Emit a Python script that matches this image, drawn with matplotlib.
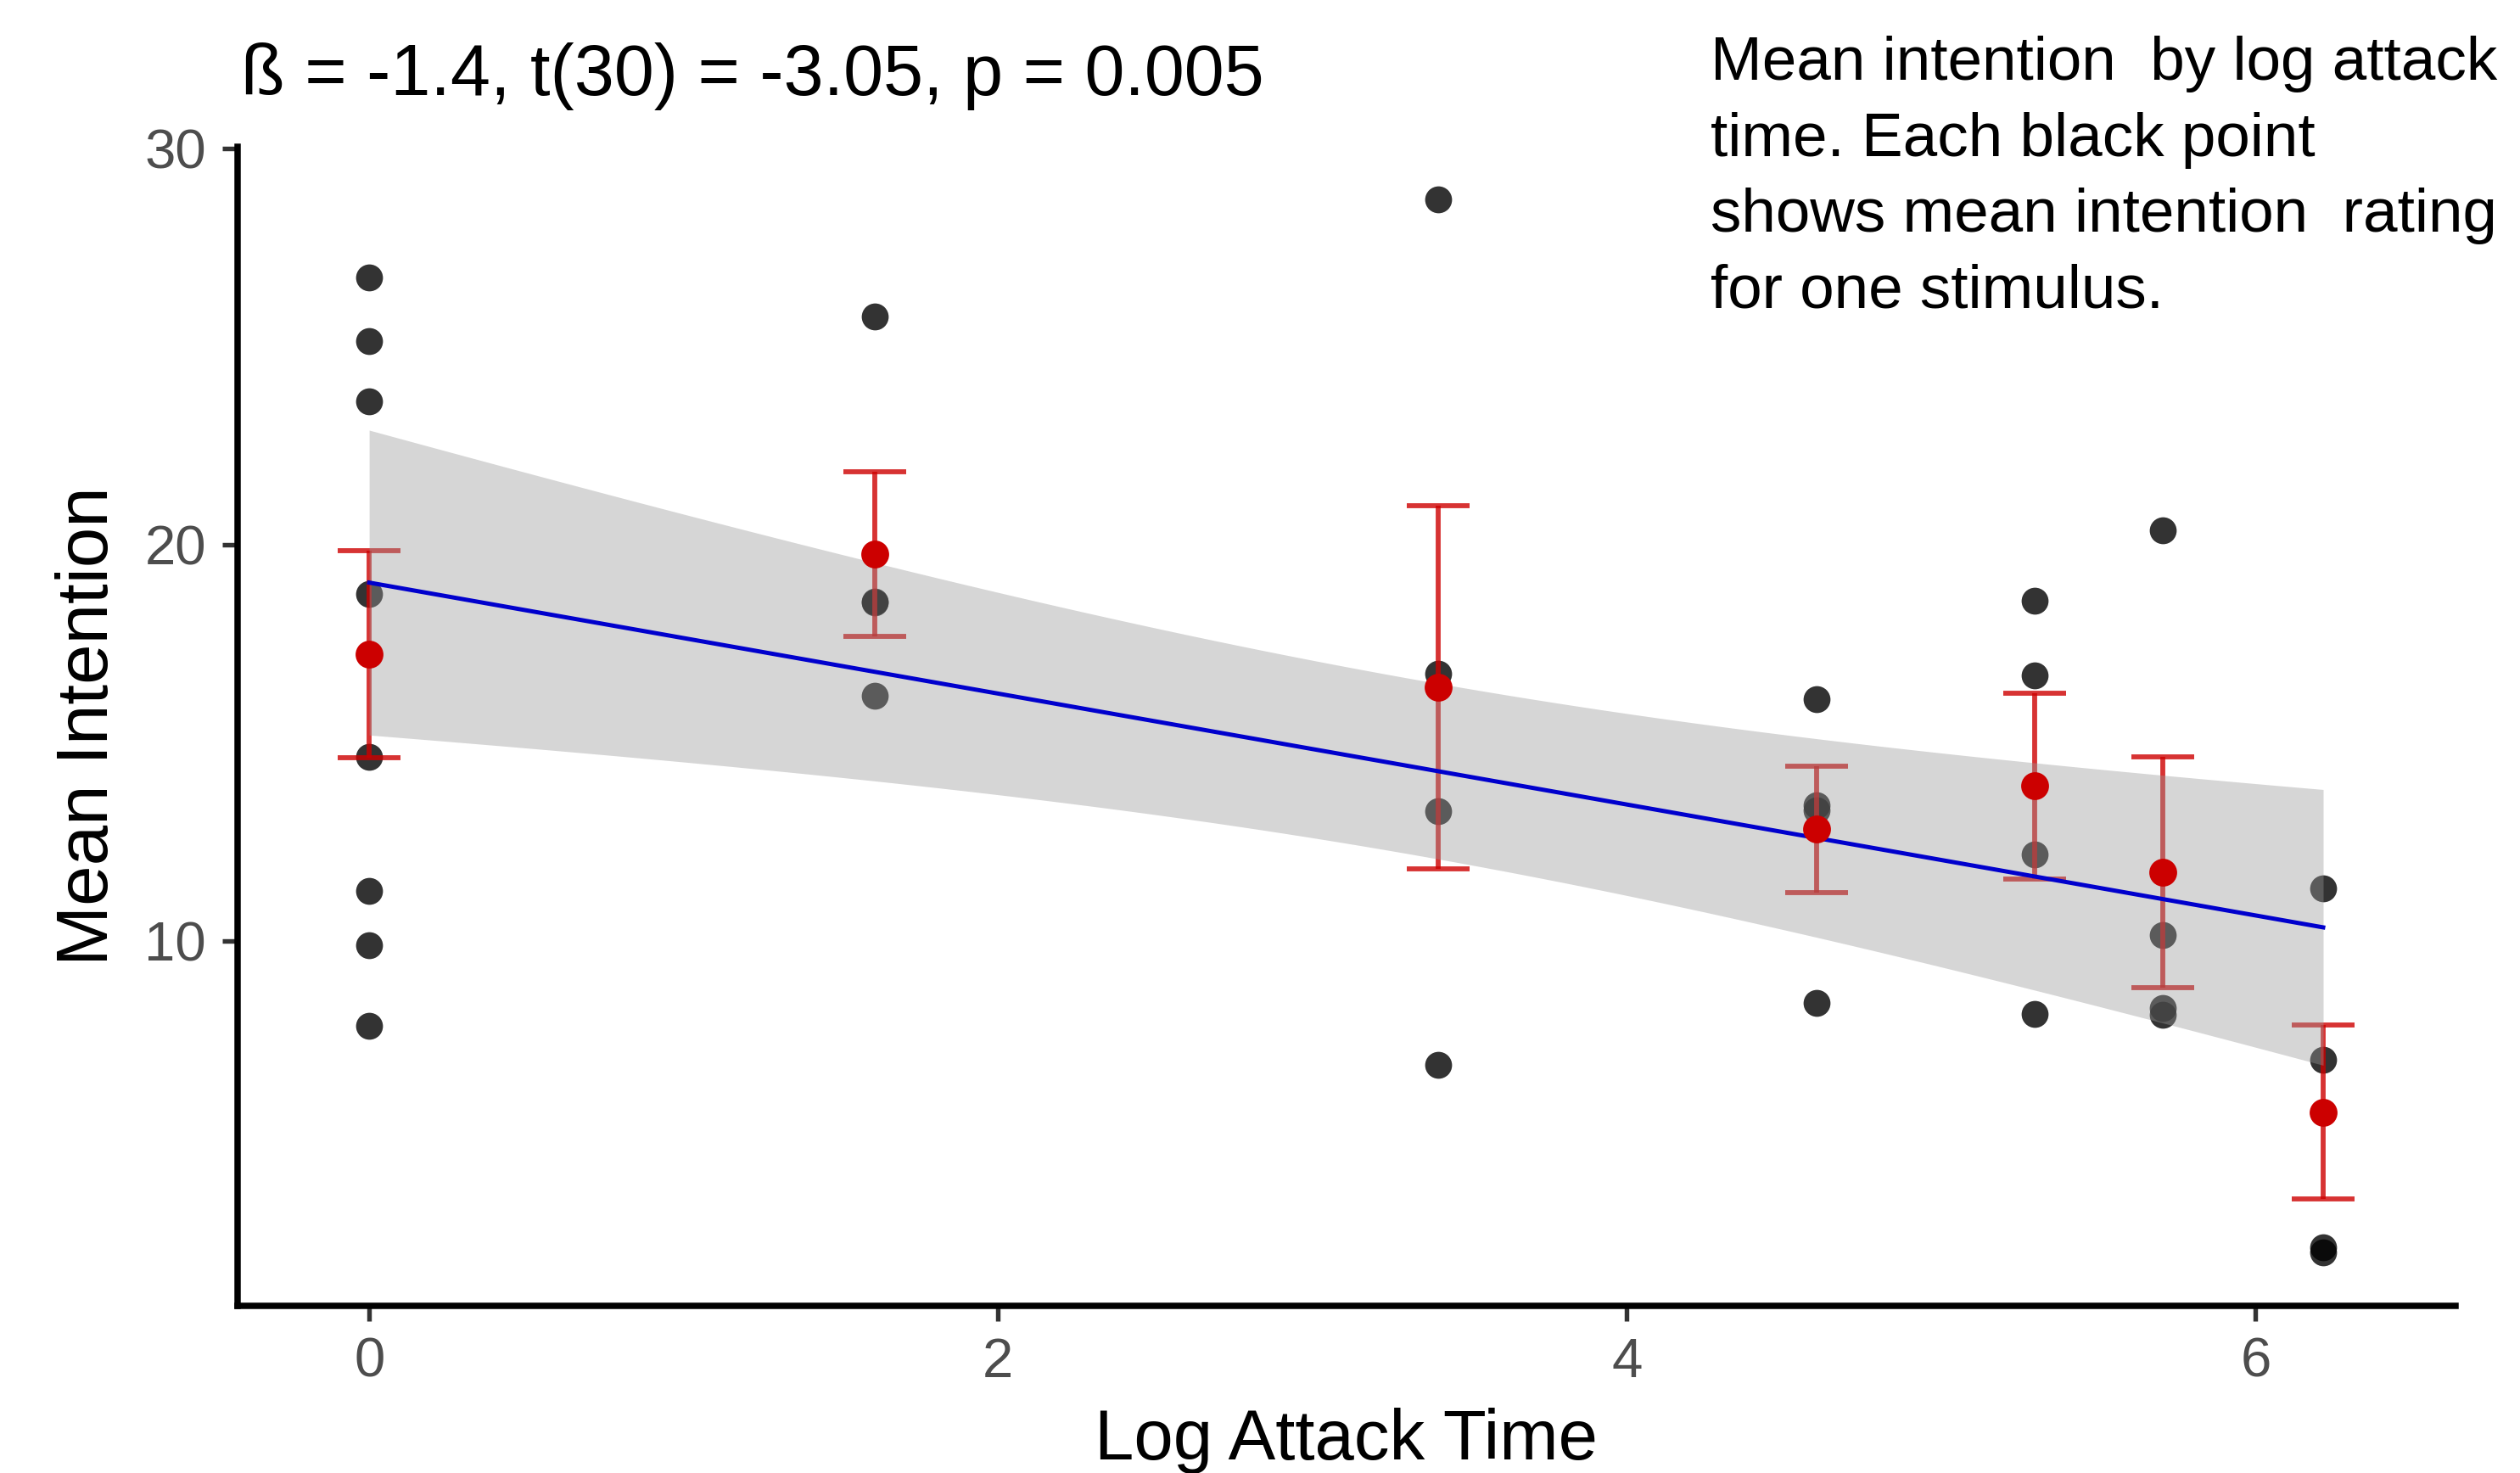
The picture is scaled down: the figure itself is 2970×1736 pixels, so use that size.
import numpy as np
import matplotlib
matplotlib.use("Agg")
from matplotlib import pyplot as plt

plt.rcParams['font.family'] = ['Liberation Sans', 'DejaVu Sans']

# log attack time per stimulus group and mean intention per stimulus
x_groups = [0.0, 1.609, 3.401, 4.605, 5.298, 5.704, 6.215]
y_groups = [
    [26.75, 25.14, 23.63, 18.75, 14.64, 11.26, 9.88, 7.85],
    [25.76, 18.56, 18.54, 16.19],
    [28.72, 16.75, 13.27, 6.86],
    [16.10, 13.42, 13.30, 8.44],
    [18.58, 16.70, 12.19, 8.15],
    [20.37, 10.15, 8.30, 8.13],
    [11.32, 6.99, 2.25, 2.12],
]
title_text = "ß = -1.4, t(30) = -3.05, p = 0.005"
note_text = ("Mean intention  by log attack\ntime. Each black point\n"
             "shows mean intention  rating\nfor one stimulus.")

W, H = 2970, 1736
fig = plt.figure(figsize=(W / 300, H / 300), dpi=300)
ax = fig.add_axes([279.5 / W, 1 - 1539 / H, (2894 - 279.5) / W, (1539 - 173) / H])

x_all = np.concatenate([[x] * len(ys) for x, ys in zip(x_groups, y_groups)])
y_all = np.concatenate(y_groups)

# stimulus points
ax.scatter(x_all, y_all, s=58, color='black', alpha=0.8, linewidths=0, zorder=1)

# mean +- se per group
means = np.array([np.mean(ys) for ys in y_groups])
ses = np.array([np.std(ys, ddof=1) / np.sqrt(len(ys)) for ys in y_groups])
ax.errorbar(x_groups, means, yerr=ses, fmt='none', ecolor='#CD0000', alpha=0.8,
            elinewidth=1.4, capsize=8.9, capthick=1.4, zorder=2)

# linear fit with 95% confidence band
n = len(x_all)
slope, intercept = np.polyfit(x_all, y_all, 1)
resid = y_all - (intercept + slope * x_all)
s = np.sqrt(np.sum(resid ** 2) / (n - 2))
xs = np.linspace(min(x_groups), max(x_groups), 80)
fit = intercept + slope * xs
se_fit = s * np.sqrt(1 / n + (xs - x_all.mean()) ** 2 / np.sum((x_all - x_all.mean()) ** 2))
t_crit = 2.042
ax.fill_between(xs, fit - t_crit * se_fit, fit + t_crit * se_fit, color='#999999',
                alpha=0.4, linewidth=0, zorder=3)
ax.plot(xs, fit, color='#0000CD', linewidth=1.2, zorder=4)

ax.scatter(x_groups, means, s=62, color='#CC0000', linewidths=0, zorder=5)

ax.set_xlim(-0.42, 6.636)
ax.set_ylim(0.78, 30.05)
ax.set_xticks([0, 2, 4, 6])
ax.set_yticks([10, 20, 30])
for side in ['top', 'right']:
    ax.spines[side].set_visible(False)
for side in ['left', 'bottom']:
    ax.spines[side].set_linewidth(1.8)
ax.tick_params(axis='both', length=4.3, width=1.3, color='#333333',
               labelsize=15.7, labelcolor='#4D4D4D')
ax.tick_params(axis='x', pad=4.5)
ax.tick_params(axis='y', pad=4.5)
ax.set_xlabel("Log Attack Time", fontsize=20, labelpad=5.6)
ax.set_ylabel("Mean Intention", fontsize=20.5, labelpad=6)

fig.text(284 / W, 1 - 112 / H, title_text, fontsize=20.3, va='baseline', ha='left')
fig.text(2016 / W, 1 - 362.5 / H, note_text, fontsize=17.5, va='baseline', ha='left',
         linespacing=1.43)

fig.savefig("out.png", dpi=300)
